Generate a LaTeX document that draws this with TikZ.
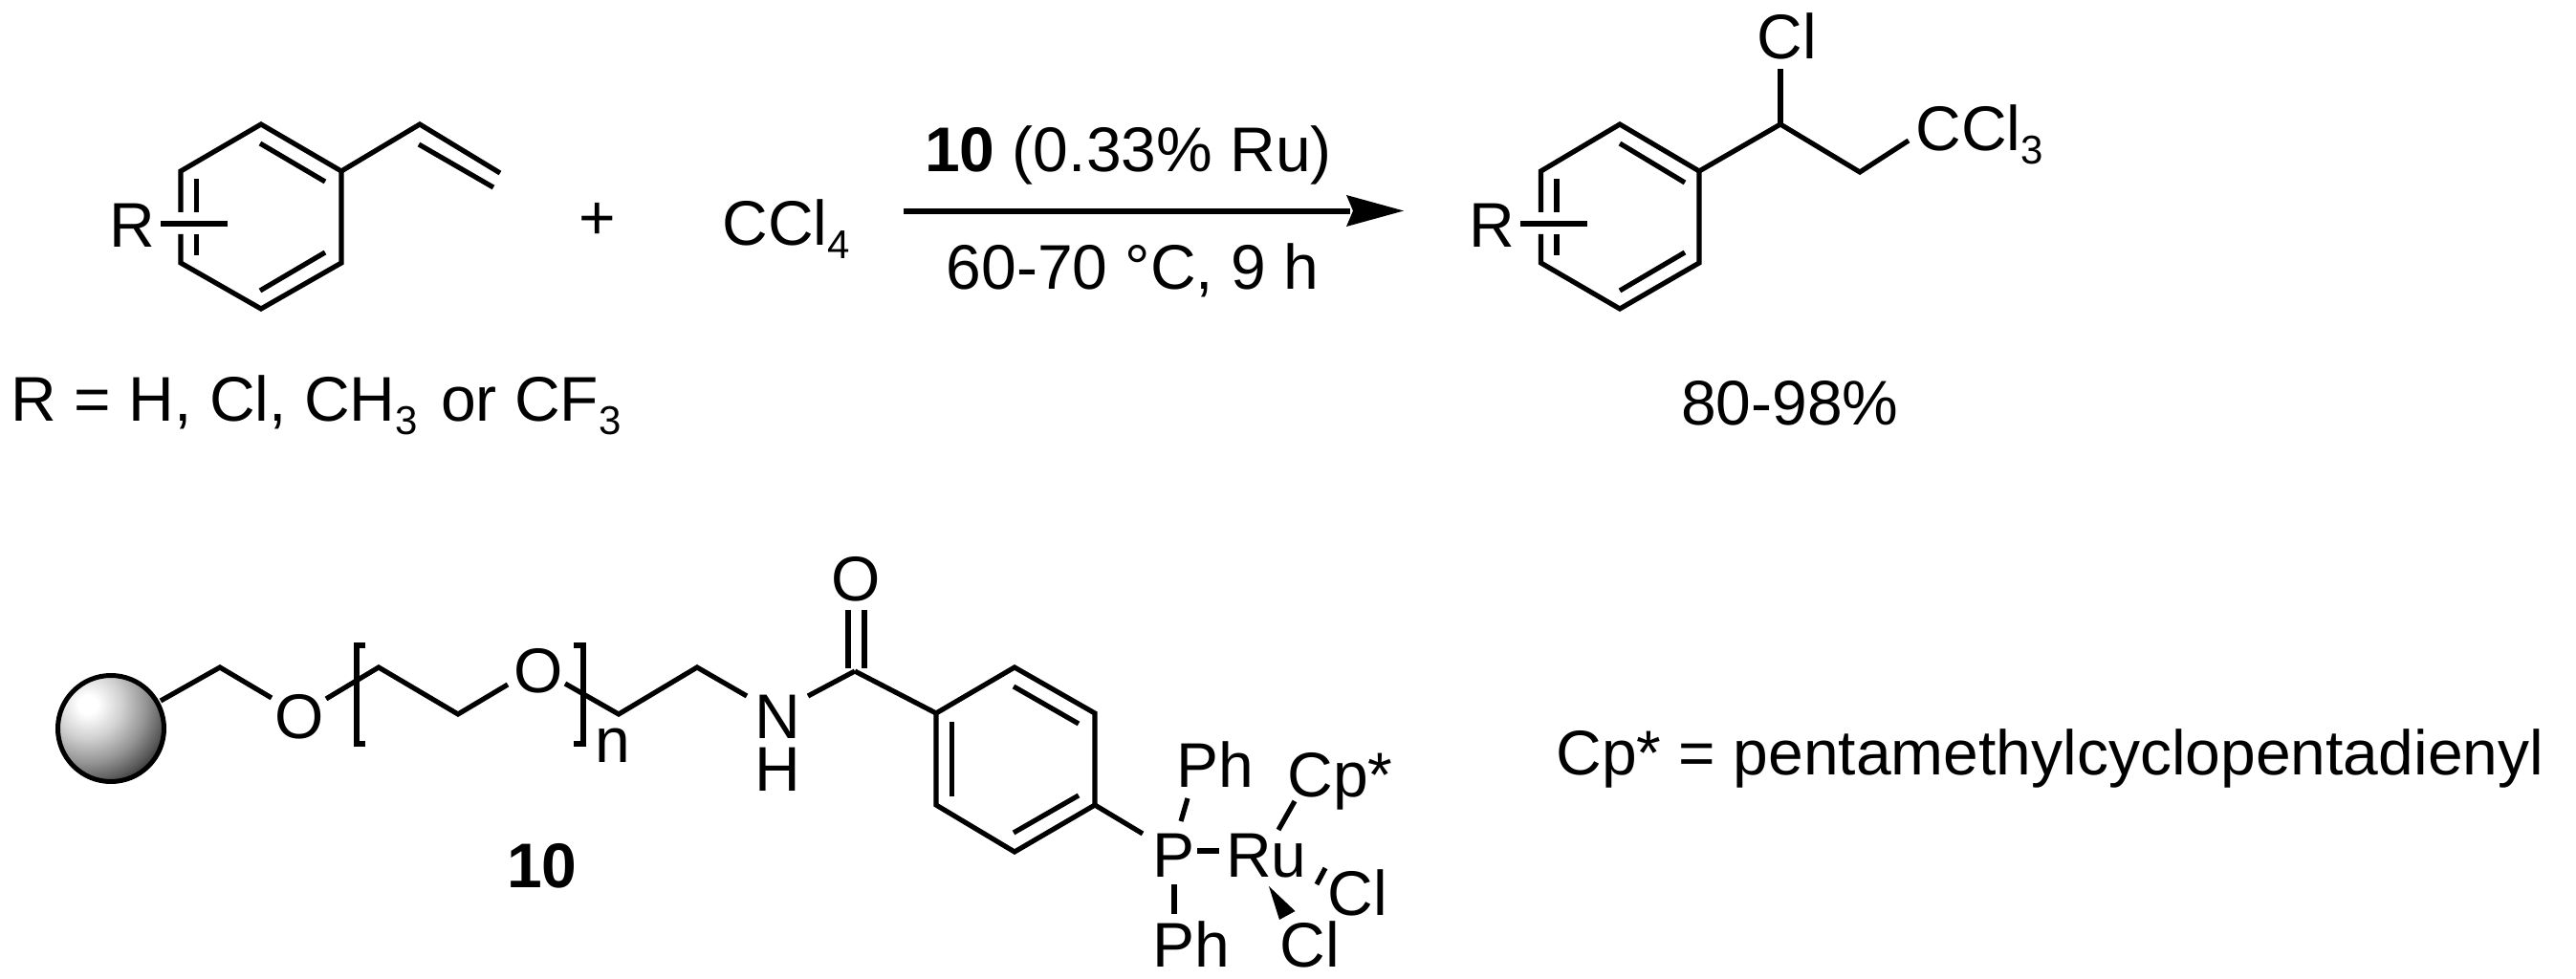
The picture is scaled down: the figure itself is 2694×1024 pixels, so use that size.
\documentclass[tikz,border=0pt]{standalone}
\usepackage{fontspec}
\setmainfont{Liberation Sans}
\pgfdeclareradialshading{bead}{\pgfpoint{0bp}{0bp}}{color(0bp)=(white); color(2.6bp)=(white); color(9.2bp)=(black!18); color(16bp)=(black!42); color(21bp)=(black!64); color(25bp)=(black!85); color(50bp)=(black!85)}
\newcommand{\subs}[1]{\raisebox{-14pt}{\fontsize{42}{42}\selectfont #1}}
\tikzset{
  x=1pt,y=-1pt,
  bond/.style={line width=5.2pt,line cap=butt,line join=miter},
  atom/.style={inner sep=0pt,outer sep=0pt,anchor=base west,font=\fontsize{66}{70}\selectfont},
}
\begin{document}
\begin{tikzpicture}
\useasboundingbox (0,0) rectangle (2694,1024);
% ---- styrene
\coordinate (a1) at (273,130);
\coordinate (a2) at (357,179);
\coordinate (a3) at (357,275);
\coordinate (a4) at (273,323);
\coordinate (a5) at (189,275);
\coordinate (a6) at (189,179);
\coordinate (a5b) at (189,245);
\coordinate (a6b) at (189,222);
\coordinate (v1) at (439,130);
\coordinate (v2) at (523,181);
\coordinate (v3) at (438,151);
\coordinate (v4) at (516,196);
\draw[bond] (a6b) -- (a6) -- (a1) -- (a2) -- (a3) -- (a4) -- (a5) -- (a5b);
\draw[bond] (a2) -- (v1) -- (v2);
\draw[bond] (v3) -- (v4);
\coordinate (i1) at (272,150); \coordinate (i2) at (340,190);
\coordinate (i3) at (340,264); \coordinate (i4) at (272,304);
\coordinate (i5) at (205.5,187); \coordinate (i6) at (205.5,222);
\coordinate (i7) at (205.5,245); \coordinate (i8) at (205.5,267);
\draw[bond] (i1) -- (i2);
\draw[bond] (i3) -- (i4);
\draw[bond] (i5) -- (i6);
\draw[bond] (i7) -- (i8);
\coordinate (r1) at (168,234); \coordinate (r2) at (238,234);
\draw[bond] (r1) -- (r2);
\node[atom] (Ra) at (114,259) {R};
\node[atom,anchor=center] (plus) at (625,231) {+};
\node[atom] (ccl4) at (755.5,257) {CCl\subs{4}};
\node[atom] (rdef) at (12,440) {R = H, Cl, CH\subs{3}\hspace{6pt} or CF\subs{3}};
% ---- arrow
\node[atom,anchor=base] (cat) at (1180,180) {\textbf{10} (0.33\% Ru)};
\node[atom,anchor=base] (cond) at (1184.5,303) {60-70 °C, 9 h};
\coordinate (arrS) at (945,221);
\coordinate (arrE) at (1412,221);
\coordinate (tip) at (1468,220.5);
\coordinate (hu) at (1408,204);
\coordinate (hd) at (1408,237);
\draw[line width=5.6pt] (arrS) -- (arrE);
\fill (tip) -- (hu) -- (1415,220.5) -- (hd) -- cycle;
% ---- product
\coordinate (b1) at (1694,130);
\coordinate (b2) at (1777,179);
\coordinate (b3) at (1777,275);
\coordinate (b4) at (1694,323);
\coordinate (b5) at (1611.5,275);
\coordinate (b6) at (1611.5,179);
\coordinate (b5b) at (1611.5,245);
\coordinate (b6b) at (1611.5,222);
\coordinate (c1) at (1862,130);
\coordinate (c2) at (1945,180);
\coordinate (c3) at (1996,147);
\coordinate (c4) at (1862,72);
\draw[bond] (b6b) -- (b6) -- (b1) -- (b2) -- (b3) -- (b4) -- (b5) -- (b5b);
\draw[bond] (b2) -- (c1) -- (c2) -- (c3);
\draw[bond] (c1) -- (c4);
\coordinate (j1) at (1694,150); \coordinate (j2) at (1762,191);
\coordinate (j3) at (1762,264); \coordinate (j4) at (1694,304);
\coordinate (j5) at (1628,187); \coordinate (j6) at (1628,222);
\coordinate (j7) at (1628,245); \coordinate (j8) at (1628,267);
\draw[bond] (j1) -- (j2);
\draw[bond] (j3) -- (j4);
\draw[bond] (j5) -- (j6);
\draw[bond] (j7) -- (j8);
\coordinate (s1) at (1590,234); \coordinate (s2) at (1660,234);
\draw[bond] (s1) -- (s2);
\node[atom] (Rb) at (1536,259) {R};
\node[atom] (clp) at (1837.5,62) {Cl};
\node[atom] (ccl3) at (2003.5,158) {CCl\subs{3}};
\node[atom] (yield) at (1758,444) {80-98\%};
% ---- bead
\begin{scope}
\clip (116,762) circle[radius=56];
\fill[shading=bead] (92,737) circle[radius=95];
\end{scope}
\node[circle,draw=black,line width=5pt,minimum size=111pt,inner sep=0pt,outer sep=0pt] (bead) at (116,762) {};
\coordinate (e0) at (168,733);
\coordinate (e1) at (230,698);
\coordinate (e2) at (284,730);
\coordinate (e3) at (341,731);
\coordinate (e4) at (396,698);
\coordinate (e5) at (479,747);
\coordinate (e6) at (531,716);
\coordinate (e7) at (591,715);
\coordinate (e8) at (647,747);
\coordinate (e9) at (729,698);
\coordinate (e10) at (781,728);
\coordinate (e11) at (845,728);
\coordinate (co) at (894,702);
\draw[bond] (e0) -- (e1) -- (e2);
\draw[bond] (e3) -- (e4) -- (e5) -- (e6);
\draw[bond] (e7) -- (e8) -- (e9) -- (e10);
\draw[bond] (e11) -- (co);
\node[atom,anchor=base] (o1) at (313,772) {O};
\node[atom,anchor=base] (o2) at (563,724) {O};
\node[atom,anchor=base] (nn) at (813,772) {N};
\node[atom,anchor=base] (hh) at (813,827) {H};
\node[atom] (nsub) at (622.5,797) {n};
\coordinate (bl1) at (382,675); \coordinate (bl2) at (373,675);
\coordinate (bl3) at (373,778); \coordinate (bl4) at (382,778);
\coordinate (br1) at (600,675); \coordinate (br2) at (610,675);
\coordinate (br3) at (610,778); \coordinate (br4) at (600,778);
\draw[bond] (bl1) -- (bl2) -- (bl3) -- (bl4);
\draw[bond] (br1) -- (br2) -- (br3) -- (br4);
\node[atom,anchor=base,font=\fontsize{66}{70}\selectfont\bfseries] (ten) at (567,928) {10};
% ---- carbonyl
\coordinate (d1) at (887,638); \coordinate (d2) at (887,699);
\coordinate (d3) at (904,638); \coordinate (d4) at (904,699);
\draw[bond] (d1) -- (d2);
\draw[bond] (d3) -- (d4);
\node[atom,anchor=base] (oc) at (895,628) {O};
% ---- aryl
\coordinate (f1) at (979,746);
\coordinate (f2) at (1061,698);
\coordinate (f3) at (1145,746);
\coordinate (f4) at (1145,842);
\coordinate (f5) at (1061,891);
\coordinate (f6) at (979,842);
\draw[bond] (co) -- (f1) -- (f2) -- (f3) -- (f4) -- (f5) -- (f6) -- (f1);
\coordinate (k1) at (1060,718); \coordinate (k2) at (1128,757);
\coordinate (k3) at (1128,832); \coordinate (k4) at (1060,871);
\coordinate (k5) at (995.5,755); \coordinate (k6) at (995.5,833);
\draw[bond] (k1) -- (k2);
\draw[bond] (k3) -- (k4);
\draw[bond] (k5) -- (k6);
\coordinate (p0) at (1195,872);
\draw[bond] (f4) -- (p0);
% ---- P and Ru
\node[atom] (pp) at (1205,917) {P};
\node[atom] (ru) at (1282,917) {Ru};
\node[atom] (ph1) at (1230,823) {Ph};
\node[atom] (ph2) at (1205,1011) {Ph};
\node[atom] (cps) at (1346.5,833) {Cp*};
\node[atom] (cl1) at (1388.5,957) {Cl};
\node[atom] (cl2) at (1338.5,1011) {Cl};
\coordinate (g1) at (1252,890); \coordinate (g2) at (1275,890);
\draw[bond] (g1) -- (g2);
\coordinate (g3) at (1235,859); \coordinate (g4) at (1242,835);
\draw[bond] (g3) -- (g4);
\coordinate (g5) at (1337,868); \coordinate (g6) at (1354,838);
\draw[bond] (g5) -- (g6);
\coordinate (g7) at (1228,925); \coordinate (g8) at (1228,956);
\draw[bond] (g7) -- (g8);
\coordinate (g9) at (1377,925); \coordinate (g10) at (1386,908);
\draw[bond] (g9) -- (g10);
\coordinate (w1) at (1327,927); \coordinate (w2) at (1354.5,953); \coordinate (w3) at (1338,962);
\fill (w1) -- (w2) -- (w3) -- cycle;
% ---- legend
\node[atom] (legend) at (1627.5,810) {Cp* = pentamethylcyclopentadienyl};
\end{tikzpicture}
\end{document}
